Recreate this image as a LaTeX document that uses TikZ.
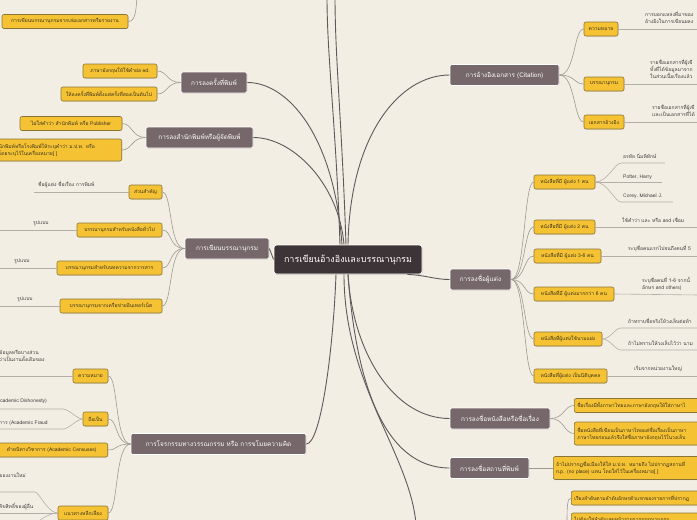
\documentclass[tikz,border=0pt]{standalone}
\usepackage{fontspec}
\setmainfont[Script=Thai]{Loma}
\usetikzlibrary{shadows}
\definecolor{bgcol}{HTML}{F3EEE4}
\definecolor{rootcol}{HTML}{3D3437}
\definecolor{branchcol}{HTML}{76676B}
\definecolor{subcol}{HTML}{F4C232}
\definecolor{subedge}{HTML}{8A7638}
\definecolor{subink}{HTML}{3A3020}
\definecolor{leafink}{HTML}{3E3C3A}
\definecolor{mainln}{HTML}{5E5A5B}
\definecolor{subln}{HTML}{9D9992}
\definecolor{leafln}{HTML}{B3AFA8}

\tikzset{
  rootbox/.style={fill=rootcol, draw=white, line width=.8pt, rounded corners=2.5pt,
    text=white, font=\fontsize{9}{10}\selectfont, minimum height=29pt,
    drop shadow={shadow xshift=.5pt, shadow yshift=-.8pt, opacity=.3}},
  branchbox/.style={fill=branchcol, draw=white, line width=.7pt, rounded corners=2pt,
    text=white, font=\fontsize{6.4}{7.5}\selectfont, minimum height=21pt,
    drop shadow={shadow xshift=.4pt, shadow yshift=-.6pt, opacity=.25}},
  subbox/.style={fill=subcol, draw=subedge, line width=.6pt, rounded corners=2pt,
    text=subink, font=\fontsize{5}{6.8}\selectfont, minimum height=14pt, inner xsep=3pt,
    drop shadow={shadow xshift=.3pt, shadow yshift=-.5pt, opacity=.25}},
  leaftext/.style={font=\fontsize{5}{7}\selectfont, text=leafink, inner sep=0pt,
    anchor=west, align=left},
  mainline/.style={draw=mainln, line width=.9pt},
  subline/.style={draw=subln, line width=.6pt},
  leafline/.style={draw=leafln, line width=.6pt},
}

\begin{document}
\begin{tikzpicture}[x=1pt, y=-1pt]
\useasboundingbox (0,0) rectangle (697,520);
\fill[bgcol] (0,0) rectangle (697,520);

% centre and main branches
\node[rootbox, minimum width=148pt] (root) at (348,259.5) {การเขียนอ้างอิงและบรรณานุกรม};
\node[branchbox, minimum width=66pt] (ed) at (214,82.5) {การลงครั้งที่พิมพ์};
\node[branchbox, minimum width=107pt] (pub) at (199.5,137.5) {การลงสำนักพิมพ์หรือผู้จัดพิมพ์};
\node[branchbox, minimum width=84pt] (bib) at (227,248.5) {การเขียนบรรณานุกรม};
\node[branchbox, minimum width=175pt] (plag) at (218.5,444) {การโจรกรรมทางวรรณกรรม หรือ การขโมยความคิด};
\node[branchbox, minimum width=109pt] (cite) at (504.5,75) {การอ้างอิงเอกสาร (Citation)};
\node[branchbox, minimum width=61pt] (auth) at (480.5,279.5) {การลงชื่อผู้แต่ง};
\node[branchbox, minimum width=100pt] (title) at (500,418.5) {การลงชื่อหนังสือหรือชื่อเรื่อง};
\node[branchbox, minimum width=79pt] (place) at (489.5,468) {การลงชื่อสถานที่พิมพ์};

% ends that run off the page
\coordinate (offtl) at (137,-3);
\coordinate (offt1) at (327,-3);
\coordinate (offt2) at (335,-3);
\coordinate (offb) at (416,524);
\coordinate (offbr) at (567,526);

\draw[mainline] (ed.east) .. controls +(40,0) and +(-8,-110) .. ([xshift=-6pt]root.north);
\draw[mainline] (pub.east) .. controls +(40,0) and +(-5,-60) .. ([xshift=-4pt]root.north);
\draw[mainline] ([xshift=-8pt]root.north) .. controls +(-4,-120) and +(0,60) .. (offt1);
\draw[mainline] ([xshift=-2pt]root.north) .. controls +(-4,-120) and +(0,60) .. (offt2);
\draw[mainline] (bib.east) -- (root.west);
\draw[mainline] (plag.east) .. controls +(14,0) and +(-3,80) .. ([xshift=-12pt]root.south);
\draw[mainline] (root.north) .. controls +(2,-110) and +(-50,0) .. (cite.west);
\draw[mainline] ([xshift=-15pt]root.south east) .. controls +(20,1) and +(-15,0) .. (auth.west);
\draw[mainline] (root.south) .. controls +(5,80) and +(-55,0) .. (title.west);
\draw[mainline] (root.south) .. controls +(8,110) and +(-65,0) .. (place.west);
\draw[mainline] ([xshift=-4pt]root.south) .. controls +(0,110) and +(-6,-70) .. (offb);

% top left
\node[subbox, minimum width=126pt] (bibrep) at (65,21.5) {การเขียนบรรณานุกรมจากเล่มเอกสารหรือรายงาน};
\draw[subline] (bibrep.east) .. controls +(8,0) and +(-1,10) .. (offtl);

% edition
\node[subbox, minimum width=74pt] (edeng) at (120,71) {ภาษาอังกฤษให้ใช้คำย่อ ed.};
\node[subbox, minimum width=96pt] (edtwo) at (109,94) {ให้ลงครั้งที่พิมพ์ตั้งแต่ครั้งที่สองเป็นต้นไป};
\draw[subline] (ed.west) .. controls +(-14,0) and +(10,0) .. (edeng.east);
\draw[subline] (ed.west) .. controls +(-14,0) and +(10,0) .. (edtwo.east);

% publisher
\node[subbox, minimum width=102pt] (pubno) at (71,123.5) {ไม่ใส่คำว่า สำนักพิมพ์ หรือ Publisher};
\node[subbox, anchor=east, text width=120pt, align=left, minimum height=22pt] (pubnp) at (122,150)
  {นักพิมพ์หรือโรงพิมพ์ให้ระบุคำว่า ม.ป.พ. หรือ\\โดยระบุไว้ในเครื่องหมาย[ ]};
\draw[subline] (pub.west) .. controls +(-14,0) and +(10,0) .. (pubno.east);
\draw[subline] (pub.west) .. controls +(-14,0) and +(10,0) .. (pubnp.east);

% bibliography
\node[subbox, minimum width=33pt] (bibkey) at (145.5,192) {ส่วนสำคัญ};
\node[subbox, minimum width=85pt] (bibbook) at (119.5,230) {บรรณานุกรมสำหรับหนังสือทั่วไป};
\node[subbox, minimum width=105pt] (bibjour) at (109.5,268) {บรรณานุกรมสำหรับบทความจากวารสาร};
\node[subbox, minimum width=102pt] (bibweb) at (111,306) {บรรณานุกรมจากเครือข่ายอินเทอร์เน็ต};
\foreach \s in {bibkey,bibbook,bibjour,bibweb}
  \draw[subline] (bib.west) .. controls +(-16,0) and +(10,0) .. (\s.east);
\node[leaftext] (keyleaf) at (38,185) {ชื่อผู้แต่ง ชื่อเรื่อง การพิมพ์};
\node[leaftext] (bookleaf) at (33,223) {รูปแบบ};
\node[leaftext] (jourleaf) at (14,261) {รูปแบบ};
\node[leaftext] (webleaf) at (17,299) {รูปแบบ};
\coordinate (keyend) at (34,192);
\coordinate (bookend) at (-2,230);
\coordinate (jourend) at (-2,268);
\coordinate (webend) at (-2,306);
\draw[leafline] (bibkey.west) -- (keyend);
\draw[leafline] (bibbook.west) -- (bookend);
\draw[leafline] (bibjour.west) -- (jourend);
\draw[leafline] (bibweb.west) -- (webend);

% plagiarism
\node[subbox, minimum width=35pt] (pmean) at (90.5,376) {ความหมาย};
\node[subbox, minimum width=25pt] (pis) at (95.5,419) {ถือเป็น};
\node[subbox, anchor=east, minimum width=112pt] (pcen) at (108,450) {ตำหนิทางวิชาการ (Academic Censuses)};
\node[subbox, minimum width=50pt] (pavoid) at (83,513) {แนวทางหลีกเลี่ยง};
\foreach \s in {pmean,pis,pcen,pavoid}
  \draw[subline] (plag.west) .. controls +(-16,0) and +(10,0) .. (\s.east);
\node[leaftext] (pmeanleaf) at (-1,356) {ข้อมูลหรือบางส่วน\\ว่าเป็นงานดั้งเดิมของ};
\coordinate (pmeanend) at (-2,376);
\draw[leafline] (pmean.west) -- (pmeanend);
\node[leaftext] (disleaf) at (0,401) {cademic Dishonesty)};
\node[leaftext] (fraudleaf) at (-1,423) {การ (Academic Fraud};
\coordinate (disknee) at (63,409);
\coordinate (disend) at (-2,409);
\coordinate (fraudknee) at (63,429);
\coordinate (fraudend) at (-2,429);
\draw[leafline] (pis.west) .. controls +(-6,0) and +(6,0) .. (disknee) -- (disend);
\draw[leafline] (pis.west) .. controls +(-6,0) and +(6,0) .. (fraudknee) -- (fraudend);
\node[leaftext] (newleaf) at (-1,475) {ของงานใหม่};
\node[leaftext] (rightleaf) at (-1,506) {ลิขสิทธิ์ของผู้อื่น};
\coordinate (newknee) at (35,492);
\coordinate (newend) at (-2,492);
\coordinate (rightend) at (-2,513);
\coordinate (avoidoff) at (36,524);
\draw[leafline] (pavoid.west) .. controls +(-10,0) and +(4,0) .. (newknee) -- (newend);
\draw[leafline] (pavoid.west) -- (rightend);
\draw[leafline] (pavoid.west) .. controls +(-8,0) and +(3,-4) .. (avoidoff);

% citation
\node[subbox, minimum width=34pt] (cmean) at (601,29) {ความหมาย};
\node[subbox, minimum width=40pt] (cbib) at (604,84) {บรรณานุกรม};
\node[subbox, minimum width=40pt] (cref) at (604,122) {เอกสารอ้างอิง};
\foreach \s in {cmean,cbib,cref}
  \draw[subline] (cite.east) .. controls +(16,0) and +(-10,0) .. (\s.west);
\node[leaftext] (cmeanleaf) at (645,17) {การบอกแหล่งที่มาของ\\อ้างอิงในการเขียนผลง};
\node[leaftext] (cbibleaf) at (650,69) {รายชื่อเอกสารที่ผู้เขี\\ทั้งที่ได้ข้อมูลมาจาก\\ในส่วนเนื้อเรื่องแล้ว};
\node[leaftext] (crefleaf) at (652,110.5) {รายชื่อเอกสารที่ผู้เขี\\และเป็นเอกสารที่ได้};
\coordinate (cmeanend) at (699,29);
\coordinate (cbibend) at (699,84);
\coordinate (crefend) at (699,122);
\draw[leafline] (cmean.east) -- (cmeanend);
\draw[leafline] (cbib.east) -- (cbibend);
\draw[leafline] (cref.east) -- (crefend);

% authors
\node[subbox, minimum width=61pt] (aone) at (564.5,182) {หนังสือที่มี ผู้แต่ง 1 คน};
\node[subbox, minimum width=61pt] (atwo) at (564.5,227) {หนังสือที่มี ผู้แต่ง 2 คน};
\node[subbox, minimum width=67pt] (asix) at (567.5,256) {หนังสือที่มี ผู้แต่ง 3-6 คน};
\node[subbox, minimum width=80pt] (amore) at (574,294) {หนังสือที่มี ผู้แต่งมากกว่า 6 คน};
\node[subbox, minimum width=68pt] (apen) at (568,339) {หนังสือที่ผู้แต่งใช้นามแฝง};
\node[subbox, minimum width=73pt] (aorg) at (570.5,376) {หนังสือที่ผู้แต่ง เป็นนิติบุคคล};
\foreach \s in {aone,atwo,asix,amore,apen,aorg}
  \draw[subline] (auth.east) .. controls +(14,0) and +(-10,0) .. (\s.west);

\node[leaftext] (nameth) at (623,156) {อรทัย นิ่มพิทักษ์};
\node[leaftext] (nameen) at (623,177) {Potter, Harry};
\node[leaftext] (namemid) at (623,196) {Corey, Michael J.};
\coordinate (thknee) at (621,163);
\coordinate (thend) at (665,163);
\coordinate (enend) at (662,182);
\coordinate (midknee) at (621,202);
\coordinate (midend) at (673,202);
\draw[leafline] (aone.east) .. controls +(12,0) and +(-6,0) .. (thknee) -- (thend);
\draw[leafline] (aone.east) -- (enend);
\draw[leafline] (aone.east) .. controls +(12,0) and +(-6,0) .. (midknee) -- (midend);

\node[leaftext] (twoleaf) at (622,219.5) {ใช้คำว่า และ หรือ and เชื่อม};
\node[leaftext] (sixleaf) at (628,249) {ระบุชื่อคนแรกไปจนถึงคนที่ 5};
\node[leaftext] (moreleaf) at (642,283.5) {ระบุชื่อคนที่ 1-6 จากนั้\\อักษร and others)};
\coordinate (twoend) at (699,227);
\coordinate (sixend) at (699,256);
\coordinate (moreend) at (699,295);
\draw[leafline] (atwo.east) -- (twoend);
\draw[leafline] (asix.east) -- (sixend);
\draw[leafline] (amore.east) -- (moreend);

\node[leaftext] (realleaf) at (628,321) {ถ้าทราบชื่อจริงให้วงเล็บต่อท้า};
\node[leaftext] (penleaf) at (628,343) {ถ้าไม่ทราบให้วงเล็บไว้ว่า นาม};
\coordinate (realknee) at (621,328);
\coordinate (realend) at (699,328);
\coordinate (penknee) at (621,350);
\coordinate (penend) at (699,350);
\draw[leafline] (apen.east) .. controls +(8,0) and +(-6,0) .. (realknee) -- (realend);
\draw[leafline] (apen.east) .. controls +(8,0) and +(-6,0) .. (penknee) -- (penend);

\node[leaftext] (orgleaf) at (634,368.5) {เริ่มจากหน่วยงานใหญ่};
\coordinate (orgend) at (699,376);
\draw[leafline] (aorg.east) -- (orgend);

% title and place
\node[subbox, anchor=west, text width=140pt, align=left] (tboth) at (574,405.5)
  {ชื่อเรื่องมีทั้งภาษาไทยและภาษาอังกฤษให้ใส่ภาษาไ};
\node[subbox, anchor=west, text width=140pt, align=left, minimum height=23pt] (tthai) at (574,433.5)
  {ชื่อหนังสือที่เขียนเป็นภาษาไทยแต่ชื่อเรื่องเป็นภาษา\\ภาษาไทยก่อนแล้วจึงใส่ชื่อภาษาอังกฤษไว้ในวงเล็บ};
\draw[subline] (title.east) .. controls +(14,0) and +(-10,0) .. (tboth.west);
\draw[subline] (title.east) .. controls +(14,0) and +(-10,0) .. (tthai.west);
\node[subbox, anchor=west, text width=160pt, align=left, minimum height=23pt] (pnp) at (553,468)
  {ถ้าไม่ปรากฏชื่อเมืองให้ใส่ ม.ป.ท. หมายถึง ไม่ปรากฏสถานที่\\n.p. (no place) แทน โดยใส่ไว้ในเครื่องหมาย[ ]};
\draw[subline] (place.east) -- (pnp.west);

% bottom right
\node[subbox, anchor=west, text width=140pt, align=left] (ordone) at (571,498)
  {เรียงลำดับตามลำดับอักษรตัวแรกของรายการที่ปรากฏ};
\node[subbox, anchor=west, text width=140pt, align=left] (ordtwo) at (571,520)
  {ไม่ต้องใส่ลำดับเลขหน้ารายการบรรณานุกรม};
\draw[subline] (offbr) .. controls +(0,-18) and +(-4,0) .. (ordone.west);
\draw[subline] (offbr) .. controls +(0,-3) and +(-3,0) .. (ordtwo.west);
\end{tikzpicture}
\end{document}
